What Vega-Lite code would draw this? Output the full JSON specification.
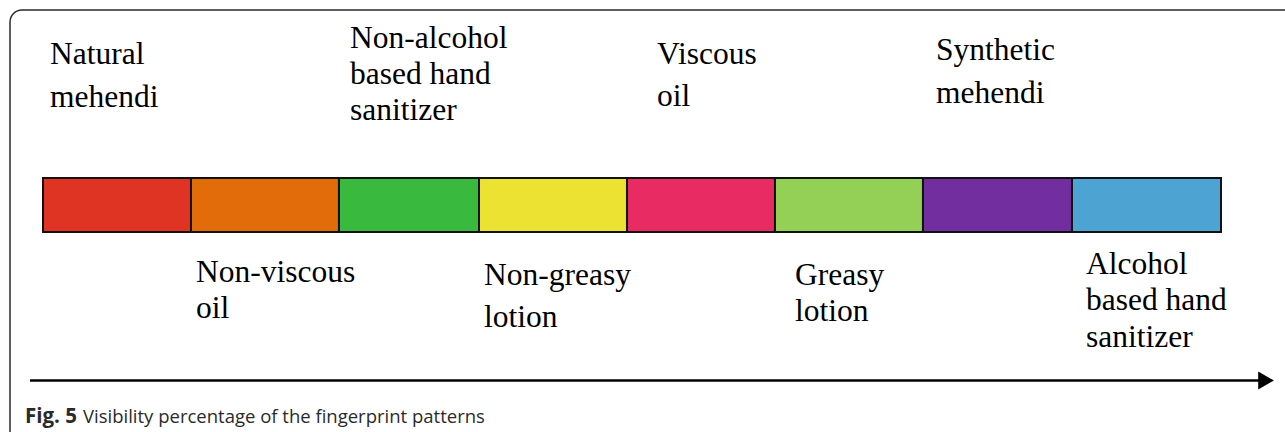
{
  "$schema": "https://vega.github.io/schema/vega-lite/v6.json",
  "width": 1285,
  "height": 432,
  "autosize": {"type": "fit", "contains": "padding"},
  "padding": 0,
  "background": "white",
  "config": {"view": {"stroke": null}},
  "datasets": {
    "segments": [
      {"item": "Natural mehendi", "start": 0, "end": 1.005, "color": "#DF3323"},
      {"item": "Non-viscous oil", "start": 1.005, "end": 2.01, "color": "#E26C0A"},
      {"item": "Non-alcohol based hand sanitizer", "start": 2.01, "end": 2.961, "color": "#3AB93F"},
      {"item": "Non-greasy lotion", "start": 2.961, "end": 3.966, "color": "#EBE232"},
      {"item": "Viscous oil", "start": 3.966, "end": 4.971, "color": "#E82B62"},
      {"item": "Greasy lotion", "start": 4.971, "end": 5.976, "color": "#94D056"},
      {"item": "Synthetic mehendi", "start": 5.976, "end": 6.988, "color": "#722E9E"},
      {"item": "Alcohol based hand sanitizer", "start": 6.988, "end": 8, "color": "#4DA4D2"}
    ],
    "labels": [
      {"line": "Natural", "x": 0.0475, "y": 3.278},
      {"line": "mehendi", "x": 0.0475, "y": 2.481},
      {"line": "Non-alcohol", "x": 2.085, "y": 3.574},
      {"line": "based hand", "x": 2.085, "y": 2.907},
      {"line": "sanitizer", "x": 2.085, "y": 2.241},
      {"line": "Viscous", "x": 4.17, "y": 3.278},
      {"line": "oil", "x": 4.17, "y": 2.5},
      {"line": "Synthetic", "x": 6.065, "y": 3.352},
      {"line": "mehendi", "x": 6.065, "y": 2.556},
      {"line": "Non-viscous", "x": 1.039, "y": -0.759},
      {"line": "oil", "x": 1.039, "y": -1.426},
      {"line": "Non-greasy", "x": 2.995, "y": -0.815},
      {"line": "lotion", "x": 2.995, "y": -1.593},
      {"line": "Greasy", "x": 5.107, "y": -0.815},
      {"line": "lotion", "x": 5.107, "y": -1.481},
      {"line": "Alcohol", "x": 7.083, "y": -0.611},
      {"line": "based hand", "x": 7.083, "y": -1.278},
      {"line": "sanitizer", "x": 7.083, "y": -1.963}
    ]
  },
  "layer": [
    {
      "data": {"values": [{"frame": "box"}]},
      "mark": {"type": "rect", "fill": null, "filled": false, "stroke": "#2a2a2a", "strokeWidth": 1.5, "cornerRadius": 12, "clip": true},
      "encoding": {
        "x": {"datum": -0.224, "type": "quantitative", "scale": {"domain": [-0.292, 8.4346], "nice": false, "zero": false}, "axis": null},
        "x2": {"datum": 9},
        "y": {"datum": 4.111, "type": "quantitative", "scale": {"domain": [-3.7037, 4.2963], "nice": false, "zero": false}, "axis": null},
        "y2": {"datum": -4.5}
      }
    },
    {
      "data": {"name": "segments"},
      "mark": {"type": "rect", "stroke": "#111111", "strokeWidth": 2},
      "encoding": {
        "x": {"field": "start", "type": "quantitative"},
        "x2": {"field": "end"},
        "y": {"datum": 1, "type": "quantitative"},
        "y2": {"datum": 0},
        "fill": {"field": "color", "type": "nominal", "scale": null, "legend": null}
      }
    },
    {
      "data": {"name": "labels"},
      "mark": {"type": "text", "align": "left", "baseline": "middle", "font": "Liberation Serif", "fontSize": 31.5, "color": "#000000"},
      "encoding": {
        "x": {"field": "x", "type": "quantitative"},
        "y": {"field": "y", "type": "quantitative"},
        "text": {"field": "line", "type": "nominal"}
      }
    },
    {
      "data": {"values": [{"arrow": "axis"}]},
      "mark": {"type": "rule", "color": "#000000", "strokeWidth": 2.7},
      "encoding": {
        "x": {"datum": -0.0883, "type": "quantitative"},
        "x2": {"datum": 8.26},
        "y": {"datum": -2.75, "type": "quantitative"}
      }
    },
    {
      "data": {"values": [{"arrow": "head"}]},
      "mark": {"type": "point", "shape": "triangle-right", "filled": true, "color": "#000000", "opacity": 1, "size": 330},
      "encoding": {
        "x": {"datum": 8.306, "type": "quantitative"},
        "y": {"datum": -2.75, "type": "quantitative"}
      }
    },
    {
      "data": {"values": [{"text": "Fig. 5", "x": -0.122}]},
      "mark": {"type": "text", "align": "left", "baseline": "middle", "font": "Open Sans", "fontSize": 20.5, "fontWeight": "bold", "color": "#2a2a2a"},
      "encoding": {
        "x": {"field": "x", "type": "quantitative"},
        "y": {"datum": -3.42, "type": "quantitative"},
        "text": {"field": "text", "type": "nominal"}
      }
    },
    {
      "data": {"values": [{"text": "Visibility percentage of the fingerprint patterns", "x": 0.2716}]},
      "mark": {"type": "text", "align": "left", "baseline": "middle", "font": "Open Sans", "fontSize": 18.5, "color": "#2a2a2a"},
      "encoding": {
        "x": {"field": "x", "type": "quantitative"},
        "y": {"datum": -3.42, "type": "quantitative"},
        "text": {"field": "text", "type": "nominal"}
      }
    }
  ]
}
